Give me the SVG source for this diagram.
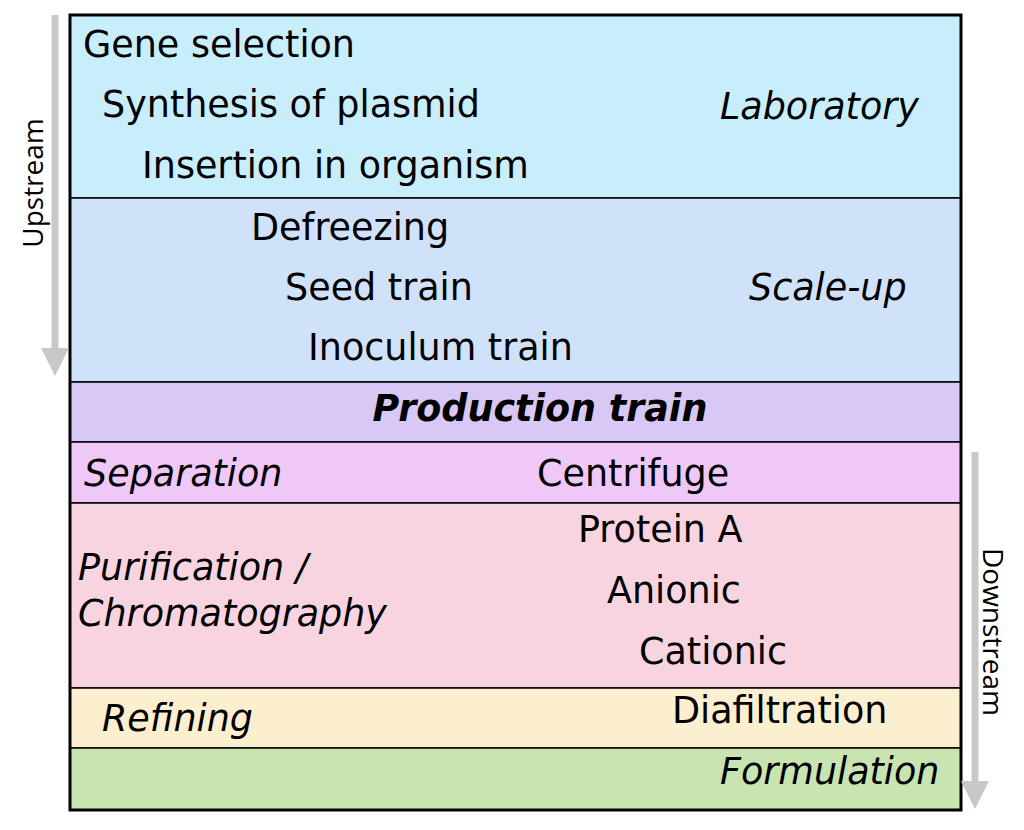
<svg xmlns="http://www.w3.org/2000/svg" width="1024" height="830" viewBox="0 0 1024 830">
<style>
text{font-family:"DejaVu Sans","Liberation Sans",sans-serif;font-size:36.5px;fill:#000}
.i{font-style:italic}
.b{stroke:#000;stroke-width:1.5}
.side{font-family:"Open Sans","DejaVu Sans",sans-serif;font-size:28px;fill:#000}
</style>
<defs><marker id="ah" markerWidth="4" markerHeight="4" refX="2" refY="2" orient="auto" markerUnits="strokeWidth"><path d="M0,0L4,2L0,4z" fill="#c8c8c8"/></marker></defs>
<rect width="1024" height="830" fill="#fff"/>
<g id="laboratory"><rect class="b" x="70" y="15" width="891" height="183" fill="#c8eefb"/>
<text x="83" y="57">Gene selection</text><text x="102" y="117">Synthesis of plasmid</text><text x="142" y="178">Insertion in organism</text><text class="i" x="720" y="119">Laboratory</text></g>
<g id="scaleup"><rect class="b" x="70" y="198" width="891" height="184" fill="#d0e2fa"/>
<text x="251" y="240">Defreezing</text><text x="285" y="300">Seed train</text><text x="308" y="360">Inoculum train</text><text class="i" x="749" y="300">Scale-up</text></g>
<g id="production"><rect class="b" x="70" y="382" width="891" height="60" fill="#d8c8f5"/>
<text class="i" x="540" y="421" text-anchor="middle" font-weight="bold">Production train</text></g>
<g id="separation"><rect class="b" x="70" y="442" width="891" height="61" fill="#f0c8f8"/>
<text class="i" x="84" y="486">Separation</text><text x="537" y="486">Centrifuge</text></g>
<g id="purification"><rect class="b" x="70" y="503" width="891" height="185" fill="#f8d4e0"/>
<text class="i" x="78" y="580">Purification /</text><text class="i" x="78" y="626">Chromatography</text>
<text x="578" y="542">Protein A</text><text x="607" y="603">Anionic</text><text x="639" y="664">Cationic</text></g>
<g id="refining"><rect class="b" x="70" y="688" width="891" height="60" fill="#fcefd0"/>
<text class="i" x="102" y="731">Refining</text><text x="672" y="723">Diafiltration</text></g>
<g id="formulation"><rect class="b" x="70" y="748" width="891" height="62" fill="#c8e4b0"/>
<text class="i" x="720" y="784">Formulation</text></g>
<rect x="70" y="15" width="891" height="795" fill="none" stroke="#000" stroke-width="3"/>
<g id="connectors">
<line x1="55" y1="15" x2="55" y2="362" stroke="#c8c8c8" stroke-width="7" marker-end="url(#ah)"/>
<line x1="975" y1="452" x2="975" y2="795" stroke="#c8c8c8" stroke-width="7" marker-end="url(#ah)"/>
</g>
<text class="side" transform="translate(43,183) rotate(-90)" text-anchor="middle">Upstream</text>
<text class="side" transform="translate(983,632) rotate(90)" text-anchor="middle">Downstream</text>
</svg>
